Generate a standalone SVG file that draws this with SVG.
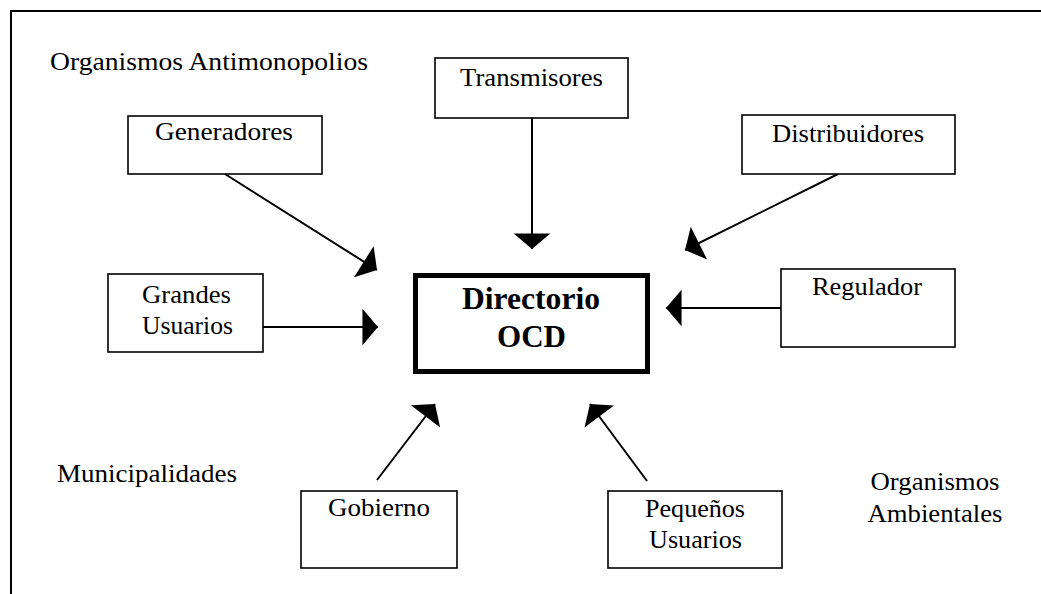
<svg xmlns="http://www.w3.org/2000/svg" width="1041" height="594" viewBox="0 0 1041 594">
  <style>
    .box { fill: #fff; stroke: #000; stroke-width: 1.6; }
    .main { fill: #fff; stroke: #000; stroke-width: 5; }
    .t { font-family: "Liberation Serif", "Times New Roman", serif; font-size: 25px; fill: #000; }
    .c { text-anchor: middle; }
    .b { font-family: "Liberation Serif", "Times New Roman", serif; font-size: 32px; font-weight: bold; fill: #000; text-anchor: middle; }
    .edge { stroke: #000; stroke-width: 2; fill: none; marker-end: url(#head); }
  </style>
  <defs>
    <marker id="head" markerUnits="userSpaceOnUse" markerWidth="20" markerHeight="40" viewBox="-15 -18 16 36" refX="0" refY="0" orient="auto">
      <path d="M0,0 L-14,-16.5 L-14,16.5 Z" fill="#000"/>
    </marker>
  </defs>

  <!-- page frame (top and left edges) -->
  <path d="M11,594 V11 H1041" fill="none" stroke="#000" stroke-width="2"/>

  <!-- free labels -->
  <g id="antimonopolios">
    <text class="t" x="50" y="70" textLength="318" lengthAdjust="spacingAndGlyphs">Organismos Antimonopolios</text>
  </g>
  <g id="municipalidades">
    <text class="t" x="57" y="482" textLength="180" lengthAdjust="spacingAndGlyphs">Municipalidades</text>
  </g>
  <g id="ambientales">
    <text class="t c" x="935" y="490" textLength="129" lengthAdjust="spacingAndGlyphs">Organismos</text>
    <text class="t c" x="935" y="522" textLength="135" lengthAdjust="spacingAndGlyphs">Ambientales</text>
  </g>

  <!-- connectors -->
  <g id="connectors">
    <line class="edge" x1="225" y1="174" x2="377" y2="270"/>
    <line class="edge" x1="532" y1="118" x2="532" y2="249"/>
    <line class="edge" x1="838" y1="174" x2="685" y2="250"/>
    <line class="edge" x1="263" y1="327" x2="378" y2="327"/>
    <line class="edge" x1="781" y1="308" x2="666" y2="308"/>
    <line class="edge" x1="377" y1="480" x2="435" y2="404"/>
    <line class="edge" x1="647" y1="481" x2="590" y2="404"/>
  </g>

  <!-- nodes -->
  <g id="generadores">
    <rect class="box" x="128" y="116" width="194" height="58"/>
    <text class="t c" x="224" y="140" textLength="138" lengthAdjust="spacingAndGlyphs">Generadores</text>
  </g>
  <g id="transmisores">
    <rect class="box" x="435" y="58" width="193" height="60"/>
    <text class="t c" x="531.5" y="86" textLength="143" lengthAdjust="spacingAndGlyphs">Transmisores</text>
  </g>
  <g id="distribuidores">
    <rect class="box" x="742" y="115" width="213" height="59"/>
    <text class="t c" x="848" y="142" textLength="152" lengthAdjust="spacingAndGlyphs">Distribuidores</text>
  </g>
  <g id="grandes-usuarios">
    <rect class="box" x="108" y="274" width="155" height="78"/>
    <text class="t c" x="186.5" y="303" textLength="89" lengthAdjust="spacingAndGlyphs">Grandes</text>
    <text class="t c" x="187.5" y="334" textLength="91" lengthAdjust="spacingAndGlyphs">Usuarios</text>
  </g>
  <g id="directorio-ocd">
    <rect class="main" x="415.5" y="275.5" width="232" height="96"/>
    <text class="b" x="531" y="309" textLength="138" lengthAdjust="spacingAndGlyphs">Directorio</text>
    <text class="b" x="531.5" y="347" textLength="69" lengthAdjust="spacingAndGlyphs">OCD</text>
  </g>
  <g id="regulador">
    <rect class="box" x="781" y="269" width="174" height="78"/>
    <text class="t c" x="867" y="295" textLength="110" lengthAdjust="spacingAndGlyphs">Regulador</text>
  </g>
  <g id="gobierno">
    <rect class="box" x="301" y="491" width="156" height="77"/>
    <text class="t c" x="379" y="516" textLength="102" lengthAdjust="spacingAndGlyphs">Gobierno</text>
  </g>
  <g id="pequenos-usuarios">
    <rect class="box" x="608" y="491" width="174" height="77"/>
    <text class="t c" x="695" y="517" textLength="100" lengthAdjust="spacingAndGlyphs">Pequeños</text>
    <text class="t c" x="695.5" y="548" textLength="93" lengthAdjust="spacingAndGlyphs">Usuarios</text>
  </g>
</svg>
